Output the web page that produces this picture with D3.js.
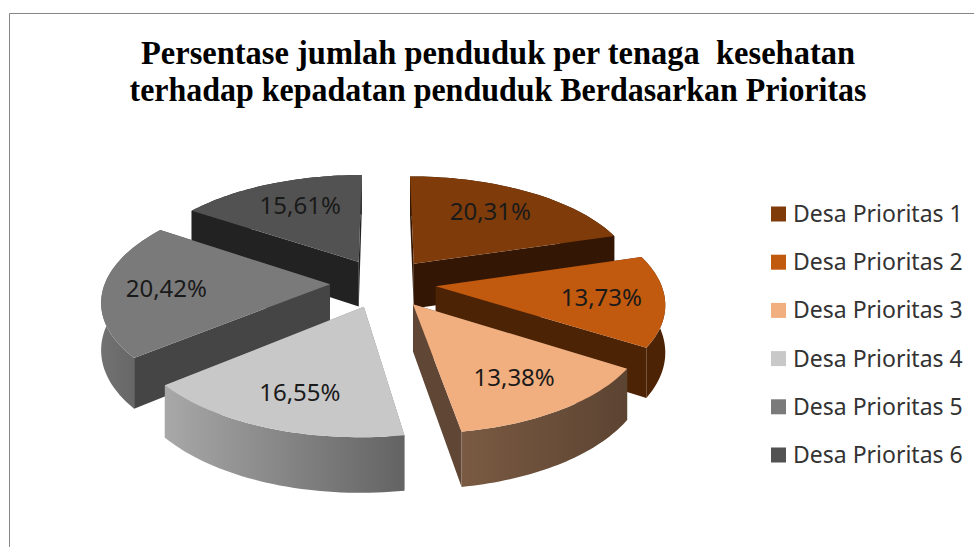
<!DOCTYPE html>
<html>
<head>
    <meta charset="utf-8">
    <title>Persentase Penduduk</title>
    <style>
        body { margin: 0; background: #fff; }
        svg { display: block; }
    </style>
</head>
<body>
    <script src="https://cdnjs.cloudflare.com/ajax/libs/d3/7.9.0/d3.min.js"></script>
    <script>

        const categories = ["Desa Prioritas 1", "Desa Prioritas 2", "Desa Prioritas 3", "Desa Prioritas 4", "Desa Prioritas 5", "Desa Prioritas 6"];
        const values = [20.31, 13.73, 13.38, 16.55, 20.42, 15.61];
        const valueLabels = ["20,31%", "13,73%", "13,38%", "16,55%", "20,42%", "15,61%"];
        const titleLines = ["Persentase jumlah penduduk per tenaga  kesehatan", "terhadap kepadatan penduduk Berdasarkan Prioritas"];

        const topColors = ["#7f3c0a", "#c1590f", "#f1ae7e", "#c8c8c8", "#7a7a7a", "#525252"];
        const cutColors = ["#331704", "#4d2306", "#5f4635", "#808080", "#454545", "#222222"];
        const outerFrom = ["#331704", "#4d2306", "#7a5a42", "#a8a8a8", "#727272", "#222222"];
        const outerTo = ["#331704", "#4d2306", "#5c4432", "#636363", "#5e5e5e", "#222222"];

        const width = 974;
        const height = 547;

        // pie centre and the tilt of the 3d view, fitted by eye
        const cx = 383, cy = 283;
        const radius = 225, explode = 53, depth = 46;
        const tilt = 0.465, persp = 0.000627;

        const svg = d3.select("body").append("svg")
            .attr("width", width)
            .attr("height", height);

        svg.append("path")
            .attr("d", `M9.5,${height}V13.5H${width}`)
            .attr("fill", "none")
            .attr("stroke", "#868686");

        // the title is squeezed a bit in the original, so force its width
        const titleWidths = [714, 737];
        const titleY = d3.scalePoint().domain(titleLines).range([64, 101]);
        svg.selectAll(".title")
            .data(titleLines)
            .enter()
            .append("text")
            .attr("class", "title")
            .attr("x", 498)
            .attr("y", d => titleY(d))
            .attr("text-anchor", "middle")
            .attr("textLength", (d, i) => titleWidths[i])
            .attr("lengthAdjust", "spacingAndGlyphs")
            .attr("font-family", "Liberation Serif")
            .attr("font-weight", "bold")
            .attr("font-size", 33)
            .attr("fill", "#000")
            .style("white-space", "pre")
            .text(d => d);

        const color = d3.scaleOrdinal().domain(categories).range(topColors);
        const pie = d3.pie().sort(null)(values);
        const line = d3.line();

        // ground point (x right, y towards the viewer) -> screen
        function project(x, y, h) {
            const w = 1 / (1 - persp * y);
            return [cx + x * w, cy + (tilt * y + h) * w];
        }

        const slices = pie.map((p, i) => {
            const mid = (p.startAngle + p.endAngle) / 2;
            const ax = explode * Math.sin(mid);
            const ay = -explode * Math.cos(mid);
            const steps = d3.range(0, 41).map(t => p.startAngle + (p.endAngle - p.startAngle) * t / 40);
            const rim = steps.map(a => [ax + radius * Math.sin(a), ay - radius * Math.cos(a)]);
            return {i, mid, ax, ay, rim};
        });

        const defs = svg.append("defs");
        slices.forEach(s => {
            const g = defs.append("linearGradient").attr("id", "outer" + s.i);
            g.append("stop").attr("offset", "0%").attr("stop-color", outerFrom[s.i]);
            g.append("stop").attr("offset", "100%").attr("stop-color", outerTo[s.i]);
        });

        // back slices first, so the front ones cover their walls
        const drawOrder = [0, 5, 1, 4, 2, 3];

        drawOrder.forEach(i => {
            const s = slices[i];
            const g = svg.append("g").attr("class", "slice");
            const apexTop = project(s.ax, s.ay, 0);
            const apexBot = project(s.ax, s.ay, depth);

            const wall = s.rim.map(r => project(r[0], r[1], 0))
                .concat(s.rim.slice().reverse().map(r => project(r[0], r[1], depth)));
            const drawWall = () => g.append("path")
                .attr("d", line(wall) + "Z")
                .attr("fill", `url(#outer${i})`);

            // a slice pointing away hides its rim behind the cut faces
            const pointsBack = Math.cos(s.mid) > 0;
            if (pointsBack) drawWall();

            [s.rim[0], s.rim[s.rim.length - 1]].forEach(r => {
                g.append("path")
                    .attr("d", line([apexTop, project(r[0], r[1], 0), project(r[0], r[1], depth), apexBot]) + "Z")
                    .attr("fill", cutColors[i]);
            });

            if (!pointsBack) drawWall();

            const face = [apexTop].concat(s.rim.map(r => project(r[0], r[1], 0)));
            g.append("path")
                .attr("d", line(face) + "Z")
                .attr("fill", color(categories[i]));
        });

        // value labels sit on the top face, with a small hand nudge per slice
        const labelNudge = [[-6, 0], [6, 1], [1, 3], [1, 5], [-5, 1], [6, 0]];
        svg.selectAll(".label")
            .data(slices)
            .enter()
            .append("text")
            .attr("class", "label")
            .attr("transform", s => {
                const f = 0.7 * radius;
                const pt = project(s.ax + f * Math.sin(s.mid), s.ay - f * Math.cos(s.mid), 0);
                return `translate(${pt[0] + labelNudge[s.i][0]},${pt[1] + labelNudge[s.i][1]})`;
            })
            .attr("text-anchor", "middle")
            .attr("dy", "0.35em")
            .attr("font-family", "Noto Sans")
            .attr("font-size", 24)
            .attr("fill", "#1a1a1a")
            .text(s => valueLabels[s.i]);

        const legendY = d3.scalePoint().domain(categories).range([214, 455]);
        const legend = svg.selectAll(".legend")
            .data(categories)
            .enter()
            .append("g")
            .attr("class", "legend")
            .attr("transform", d => `translate(771,${legendY(d)})`);

        legend.append("rect")
            .attr("y", -7.5)
            .attr("width", 15)
            .attr("height", 15)
            .attr("fill", d => color(d));

        legend.append("text")
            .attr("x", 22)
            .attr("dy", "0.35em")
            .attr("font-family", "Noto Sans")
            .attr("font-size", 23)
            .attr("fill", "#333")
            .text(d => d);

    </script>
</body>
</html>
